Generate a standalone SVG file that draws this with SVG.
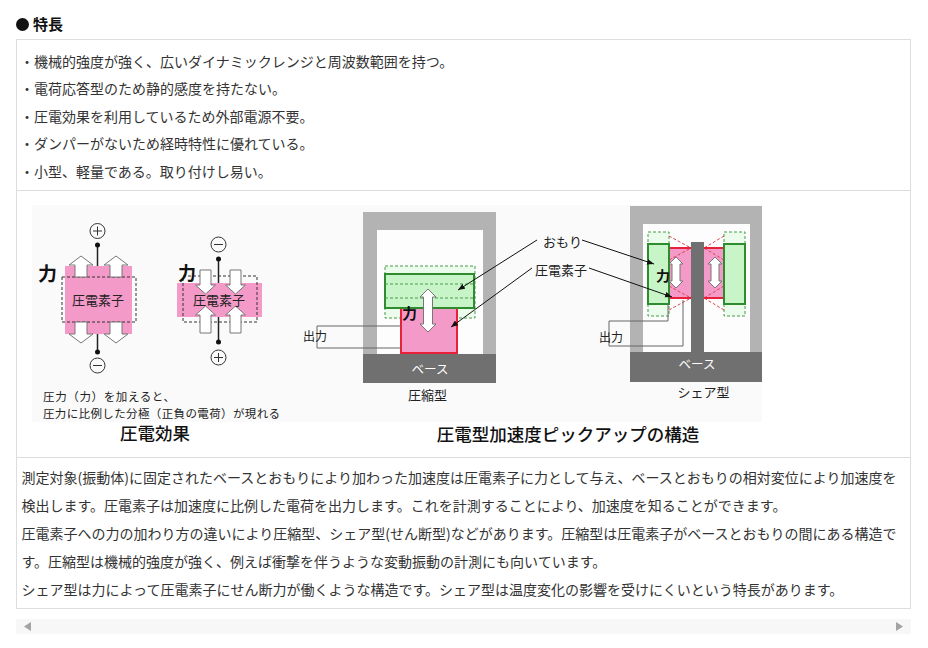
<svg xmlns="http://www.w3.org/2000/svg" width="928" height="648" viewBox="0 0 928 648">
<defs>
<style>
text{font-family:"Noto Sans CJK JP","Noto Sans",sans-serif;}
.body{font-size:14px;fill:#333;}
.lbl{font-size:13px;fill:#222;}
.sm{font-size:12px;fill:#222;}
.capt{font-size:11.5px;fill:#222;}
.cap{font-size:17.5px;fill:#111;font-weight:500;}
.bold{font-weight:bold;fill:#111;}
.wht{font-size:12.5px;fill:#fff;}
.pz{fill:#f49ac9;}
.pzs{fill:#f49ac9;stroke:#e8203a;stroke-width:2;}
.grn{fill:#c8f5c8;stroke:#2e8b2e;stroke-width:2;}
.gdash{fill:#ecfcec;stroke:#4a9a4a;stroke-width:1;stroke-dasharray:3 2;}
.gline{fill:none;stroke:#4a9a4a;stroke-width:1;stroke-dasharray:3 2;}
.rdash{fill:none;stroke:#e04050;stroke-width:1;stroke-dasharray:3 2;}
.kdash{fill:none;stroke:#333;stroke-width:1;stroke-dasharray:3 2;}
.arr{fill:#fff;stroke:#777;stroke-width:1;}
.wire{stroke:#222;stroke-width:1.5;}
.pole{fill:none;stroke:#333;stroke-width:1;}
.out{fill:none;stroke:#666;stroke-width:1;}
.lead{stroke:#111;stroke-width:1;fill:none;marker-end:url(#ah);}
.frame{fill:#b3b3b3;}
.inner{fill:#fdfdfd;}
.base{fill:#707070;}
.border{fill:none;stroke:#dddddd;stroke-width:1;}
</style>
<marker id="ah" viewBox="0 0 10 10" refX="10" refY="5" markerWidth="7" markerHeight="7" markerUnits="userSpaceOnUse" orient="auto">
<path d="M0,1 L10,5 L0,9 z" fill="#111"/>
</marker>
</defs>
<rect width="928" height="648" fill="#fff"/>

<g id="heading">
<circle cx="22.5" cy="24.5" r="6.5" fill="#111"/>
<text x="33" y="30" class="bold" font-size="15">特長</text>
</g>

<g id="table">
<rect class="border" x="16.5" y="39.5" width="894" height="569"/>
<line class="border" x1="16.5" y1="190.5" x2="910.5" y2="190.5"/>
<line class="border" x1="16.5" y1="457.5" x2="910.5" y2="457.5"/>
</g>

<g id="features">
<text class="body" x="20" y="67">・機械的強度が強く、広いダイナミックレンジと周波数範囲を持つ。</text>
<text class="body" x="20" y="94">・電荷応答型のため静的感度を持たない。</text>
<text class="body" x="20" y="122">・圧電効果を利用しているため外部電源不要。</text>
<text class="body" x="20" y="149">・ダンパーがないため経時特性に優れている。</text>
<text class="body" x="20" y="177">・小型、軽量である。取り付けし易い。</text>
</g>

<rect x="32" y="205" width="730" height="217" fill="#fafafa"/>

<g id="piezo-expand">
<rect class="pz" x="65" y="266" width="67" height="68"/>
<rect class="kdash" x="62" y="277" width="74" height="45"/>
<polygon class="arr" points="75,277 75,265 69,265 81,256 93,265 87,265 87,277"/>
<polygon class="arr" points="110,277 110,265 104,265 116,256 128,265 122,265 122,277"/>
<polygon class="arr" points="75,322 75,334 69,334 81,343 93,334 87,334 87,322"/>
<polygon class="arr" points="110,322 110,334 104,334 116,343 128,334 122,334 122,322"/>
<line class="wire" x1="97.5" y1="245" x2="97.5" y2="266"/>
<line class="wire" x1="97.5" y1="334" x2="97.5" y2="352"/>
<circle cx="97.5" cy="245" r="2.5" fill="#111"/>
<circle cx="97.5" cy="352" r="2.5" fill="#111"/>
<circle class="pole" cx="97.5" cy="231" r="7.5"/>
<path class="pole" d="M93,231 H102 M97.5,226.5 V235.5"/>
<circle class="pole" cx="97.5" cy="365.5" r="7.5"/>
<path class="pole" d="M93,365.5 H102"/>
<text class="lbl" x="98" y="305" text-anchor="middle">圧電素子</text>
<text class="bold" x="38" y="281" font-size="19">力</text>
</g>

<g id="piezo-compress">
<rect class="pz" x="177" y="283" width="85" height="34"/>
<rect class="kdash" x="183" y="276" width="74" height="46"/>
<polygon class="arr" points="200,270 211,270 211,285 215.5,285 205.5,294 195.5,285 200,285"/>
<polygon class="arr" points="230,270 241,270 241,285 245.5,285 235.5,294 225.5,285 230,285"/>
<polygon class="arr" points="200,333 211,333 211,315 215.5,315 205.5,306 195.5,315 200,315"/>
<polygon class="arr" points="230,333 241,333 241,315 245.5,315 235.5,306 225.5,315 230,315"/>
<line class="wire" x1="218.5" y1="259" x2="218.5" y2="283"/>
<line class="wire" x1="218.5" y1="317" x2="218.5" y2="342"/>
<circle cx="218.5" cy="259" r="2.5" fill="#111"/>
<circle cx="218.5" cy="342" r="2.5" fill="#111"/>
<circle class="pole" cx="218.5" cy="244.5" r="7.5"/>
<path class="pole" d="M214,244.5 H223"/>
<circle class="pole" cx="218.5" cy="357.5" r="7.5"/>
<path class="pole" d="M214,357.5 H223 M218.5,353 V362"/>
<text class="lbl" x="219" y="305" text-anchor="middle">圧電素子</text>
<text class="bold" x="178" y="280" font-size="18">力</text>
</g>

<g id="piezo-caption">
<text class="capt" x="43" y="401" textLength="132" lengthAdjust="spacing">圧力（力）を加えると、</text>
<text class="capt" x="43" y="418" textLength="237" lengthAdjust="spacing">圧力に比例した分極（正負の電荷）が現れる</text>
<text class="cap" x="155" y="440" text-anchor="middle">圧電効果</text>
</g>

<g id="compression-type">
<rect class="frame" x="363" y="212" width="133" height="143"/>
<rect class="inner" x="377" y="230" width="106" height="125"/>
<rect class="base" x="363" y="354" width="133" height="29"/>
<text class="wht" x="430" y="374" text-anchor="middle">ベース</text>
<rect class="gdash" x="385" y="266" width="90" height="52"/>
<rect fill="#f2c0d8" x="401" y="298" width="56" height="10"/>
<rect class="pzs" x="401" y="308" width="56" height="45"/>
<line class="rdash" x1="401" y1="298" x2="457" y2="298"/>
<rect class="grn" x="385" y="274" width="89" height="34"/>
<line class="gline" x1="385" y1="284" x2="475" y2="284"/>
<line class="gline" x1="385" y1="298" x2="475" y2="298"/>
<polygon class="arr" points="428,289 436,297 432.5,297 432.5,324 436,324 428,332 420,324 423.5,324 423.5,297 420,297"/>
<text class="bold" x="402" y="319" font-size="15">力</text>
<path class="out" d="M401,326 H317 V348 H401"/>
<text class="sm" x="303" y="341">出力</text>
<text class="lbl" x="427.5" y="400" text-anchor="middle">圧縮型</text>
</g>

<g id="shear-type">
<rect class="frame" x="630" y="206" width="132" height="147"/>
<rect class="inner" x="643" y="224" width="107" height="129"/>
<rect class="base" x="630" y="352" width="132" height="30"/>
<text class="wht" x="697" y="369" text-anchor="middle">ベース</text>
<rect class="base" x="691" y="242" width="13" height="111"/>
<rect class="gdash" x="648" y="232" width="21" height="84"/>
<rect class="gdash" x="724" y="232" width="21" height="84"/>
<rect class="pz" x="669" y="248" width="22" height="50"/>
<rect class="pz" x="704" y="248" width="20" height="50"/>
<path class="rdash" d="M669,236 L691,248 M669,260 L691,248 M669,286 L691,298 M669,310 L691,298"/>
<path class="rdash" d="M724,236 L704,248 M724,260 L704,248 M724,286 L704,298 M724,310 L704,298"/>
<path d="M669,248 H691 M669,298 H691 M704,248 H724 M704,298 H724" stroke="#e8203a" stroke-width="2" fill="none"/>
<rect class="grn" x="648" y="244" width="21" height="60"/>
<rect class="grn" x="724" y="244" width="21" height="60"/>
<polygon class="arr" points="676,257 683,264 680,264 680,281 683,281 676,288 669,281 672,281 672,264 669,264"/>
<polygon class="arr" points="715,257 722,264 719,264 719,281 722,281 715,288 708,281 711,281 711,264 708,264"/>
<text class="bold" x="656" y="281" font-size="14">力</text>
<path class="out" d="M668,303 V321 H609 V346 H683 V300"/>
<text class="sm" x="599" y="342">出力</text>
<text class="lbl" x="703.5" y="397" text-anchor="middle">シェア型</text>
</g>

<g id="labels">
<text class="lbl" x="543" y="247">おもり</text>
<text class="lbl" x="535" y="275">圧電素子</text>
</g>

<g id="connectors">
<line class="lead" x1="537" y1="240" x2="458" y2="290"/>
<line class="lead" x1="532" y1="268" x2="451" y2="327"/>
<line class="lead" x1="582" y1="240" x2="654" y2="264"/>
<line class="lead" x1="589" y1="268" x2="672" y2="297"/>
</g>

<text class="cap" x="568" y="441" text-anchor="middle">圧電型加速度ピックアップの構造</text>

<g id="description">
<text class="body" x="21.5" y="483">測定対象(振動体)に固定されたベースとおもりにより加わった加速度は圧電素子に力として与え、ベースとおもりの相対変位により加速度を</text>
<text class="body" x="21.5" y="511">検出します。圧電素子は加速度に比例した電荷を出力します。これを計測することにより、加速度を知ることができます。</text>
<text class="body" x="21.5" y="539">圧電素子への力の加わり方の違いにより圧縮型、シェア型(せん断型)などがあります。圧縮型は圧電素子がベースとおもりの間にある構造で</text>
<text class="body" x="21.5" y="567">す。圧縮型は機械的強度が強く、例えば衝撃を伴うような変動振動の計測にも向いています。</text>
<text class="body" x="21.5" y="595">シェア型は力によって圧電素子にせん断力が働くような構造です。シェア型は温度変化の影響を受けにくいという特長があります。</text>
</g>

<g id="scrollbar">
<rect x="16" y="619" width="895" height="15" fill="#f7f7f7"/>
<polygon points="31,622 31,631 24,626.5" fill="#a3a3a3"/>
<polygon points="896,622 896,631 903,626.5" fill="#a3a3a3"/>
</g>
</svg>
